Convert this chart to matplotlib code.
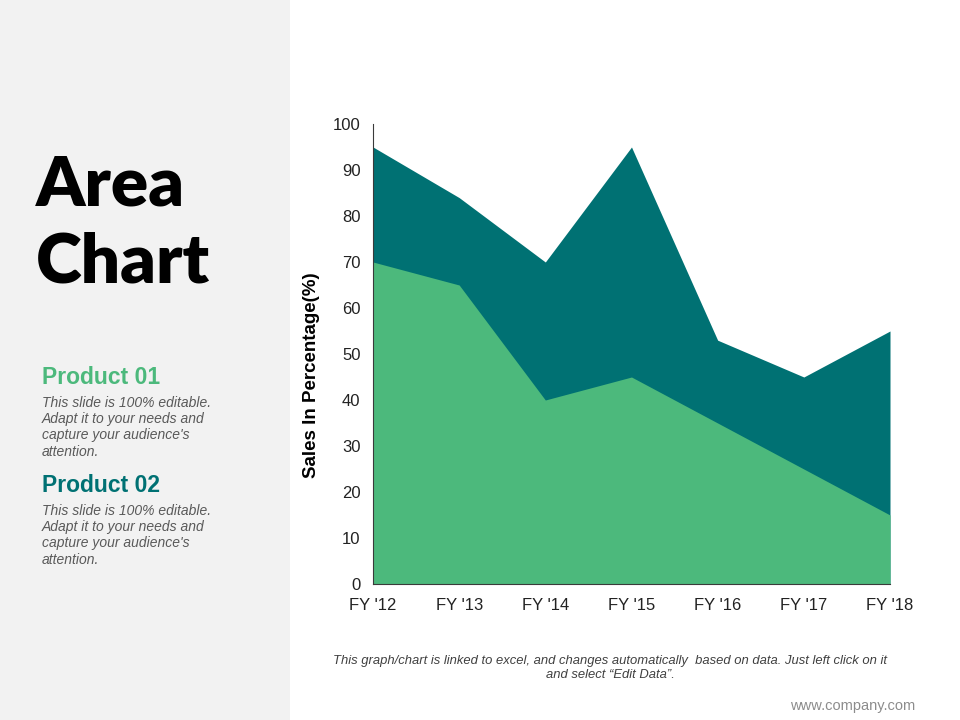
import numpy as np
import matplotlib.pyplot as plt
from matplotlib.patches import Rectangle

# datos
years = ["FY '12", "FY '13", "FY '14", "FY '15", "FY '16", "FY '17", "FY '18"]
product_01 = [70, 65, 40, 45, 35, 25, 15]
product_02 = [95, 84, 70, 95, 53, 45, 55]
y_ticks = [0, 10, 20, 30, 40, 50, 60, 70, 80, 90, 100]

GREEN = '#4CB97C'
TEAL = '#007173'
body = "This slide is 100% editable.\nAdapt it to your needs and\ncapture your audience's\nattention."

plt.rcParams['font.family'] = ['Liberation Sans', 'DejaVu Sans']

fig = plt.figure(figsize=(9.6, 7.2), dpi=100)
fig.patch.set_facecolor('white')

# panel gris de la izquierda
fig.patches.append(Rectangle((0, 0), 290 / 960, 1, transform=fig.transFigure,
                             facecolor='#F2F2F2', edgecolor='none', zorder=0))

fig.text(36 / 960, 1 - 205 / 720, "Area", fontsize=50, fontweight='heavy',
         family=['Lato', 'DejaVu Sans'], color='black', va='baseline')
fig.text(36 / 960, 1 - 283 / 720, "Chart", fontsize=50, fontweight='heavy',
         family=['Lato', 'DejaVu Sans'], color='black', va='baseline')

fig.text(42 / 960, 1 - 384 / 720, "Product 01", fontsize=16.5, fontweight='bold',
         color=GREEN, va='baseline')
fig.text(42 / 960, 1 - 396 / 720, body, fontsize=10, style='italic',
         color='#595959', va='top', linespacing=1.2)
fig.text(42 / 960, 1 - 492 / 720, "Product 02", fontsize=16.5, fontweight='bold',
         color=TEAL, va='baseline')
fig.text(42 / 960, 1 - 504 / 720, body, fontsize=10, style='italic',
         color='#595959', va='top', linespacing=1.2)

# gráfico de áreas
ax = fig.add_axes([373 / 960, 136 / 720, 517 / 960, 460 / 720])
x = np.arange(len(years))
ax.fill_between(x, 0, product_02, color=TEAL, linewidth=0, zorder=1)
ax.fill_between(x, 0, product_01, color=GREEN, linewidth=0, zorder=2)

ax.set_xlim(0, len(years) - 1)
ax.set_ylim(0, 100)
ax.set_xticks(x)
ax.set_xticklabels(years, fontsize=12, color='#222222')
ax.set_yticks(y_ticks)
ax.set_yticklabels([str(v) for v in y_ticks], fontsize=12, color='#222222')
ax.tick_params(axis='y', length=0, pad=9)
ax.tick_params(axis='x', length=0, pad=10)
for s in ['top', 'right']:
    ax.spines[s].set_visible(False)
ax.spines['left'].set_color('#3a3a3a')
ax.spines['bottom'].set_color('#3a3a3a')
ax.spines['left'].set_linewidth(0.8)
ax.spines['bottom'].set_linewidth(0.8)
ax.set_ylabel("Sales In Percentage(%)", fontsize=13.5, fontweight='bold')
ax.yaxis.set_label_coords(-0.103, 0.455)

fig.text(610 / 960, 1 - 668 / 720,
         "This graph/chart is linked to excel, and changes automatically  based on data. Just left click on it\nand select \u201cEdit Data\u201d.",
         fontsize=9.4, style='italic', color='#404040', ha='center', va='center',
         linespacing=1.3)
fig.text(915 / 960, 1 - 706 / 720, "www.company.com", fontsize=10.5,
         color='#8c8c8c', ha='right', va='center')

fig.savefig('out.png', dpi=100)
